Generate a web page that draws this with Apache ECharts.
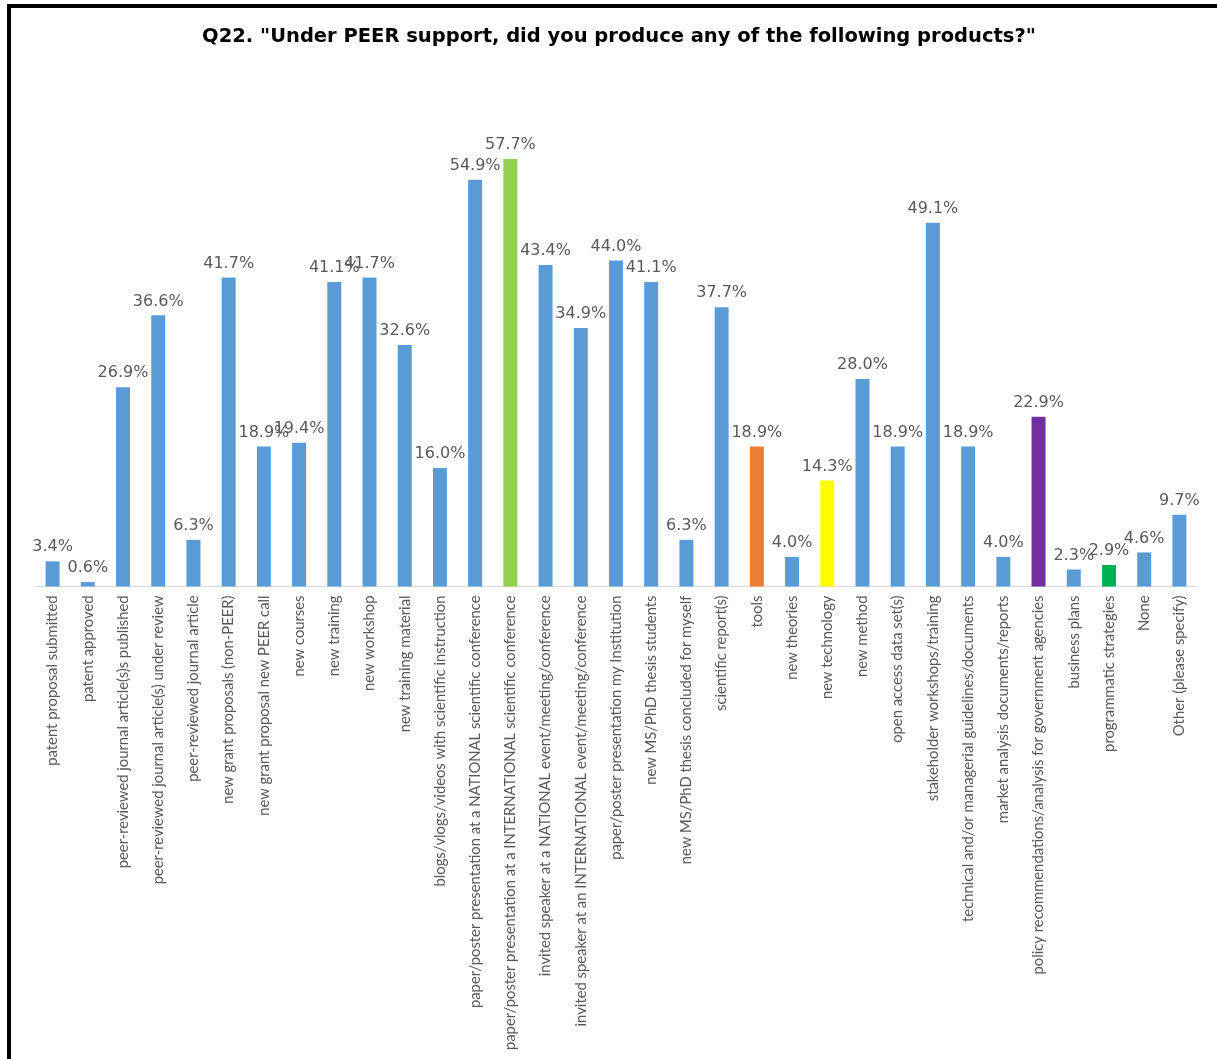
<!DOCTYPE html>
<html>
<head>
<meta charset="utf-8">
<script src="https://cdn.jsdelivr.net/npm/echarts@6/dist/echarts.min.js"></script>
<style>
html,body{margin:0;padding:0;background:#fff;}
#frame{position:absolute;left:0;top:0;width:1217px;height:1059px;}
#chart{position:absolute;left:0;top:0;width:1217px;height:1059px;}
#bt{position:absolute;left:7px;top:4px;width:1210px;height:4px;background:#000;}
#bl{position:absolute;left:7px;top:4px;width:4px;height:1055px;background:#000;}
</style>
</head>
<body>
<div id="frame"><div id="chart"></div><div id="bt"></div><div id="bl"></div></div>
<script>
const categories = [
  "patent proposal submitted",
  "patent approved",
  "peer-reviewed journal article(s)s published",
  "peer-reviewed journal article(s) under review",
  "peer-reviewed journal article",
  "new grant proposals (non-PEER)",
  "new grant proposal new PEER call",
  "new courses",
  "new training",
  "new workshop",
  "new training material",
  "blogs/vlogs/videos with scientific instruction",
  "paper/poster presentation at a NATIONAL scientific conference",
  "paper/poster presentation at a INTERNATIONAL scientific conference",
  "invited speaker at a NATIONAL event/meeting/conference",
  "invited speaker at an INTERNATIONAL event/meeting/conference",
  "paper/poster presentation my Institution",
  "new MS/PhD thesis students",
  "new MS/PhD thesis concluded for myself",
  "scientific report(s)",
  "tools",
  "new theories",
  "new technology",
  "new method",
  "open access data set(s)",
  "stakeholder workshops/training",
  "technical and/or managerial guidelines/documents",
  "market analysis documents/reports",
  "policy recommendations/analysis for government agencies",
  "business plans",
  "programmatic strategies",
  "None",
  "Other (please specify)"
];
const values = [3.4, 0.6, 26.9, 36.6, 6.3, 41.7, 18.9, 19.4, 41.1, 41.7, 32.6, 16.0, 54.9, 57.7, 43.4, 34.9, 44.0, 41.1, 6.3, 37.7, 18.9, 4.0, 14.3, 28.0, 18.9, 49.1, 18.9, 4.0, 22.9, 2.3, 2.9, 4.6, 9.7];
const highlightColors = {
  "paper/poster presentation at a INTERNATIONAL scientific conference": "#92D050",
  "tools": "#ED7D31",
  "new technology": "#FFFF00",
  "policy recommendations/analysis for government agencies": "#7030A0",
  "programmatic strategies": "#00B050"
};
const baseColor = "#5B9BD5";
const titleText = 'Q22. "Under PEER support, did you produce any of the following products?"';

const chart = echarts.init(document.getElementById('chart'));
chart.setOption({
  animation: false,
  backgroundColor: '#fff',
  title: {
    text: titleText,
    left: 614, textAlign: 'center', top: 22,
    textStyle: {fontFamily: 'DejaVu Sans', fontWeight: 'bold', fontSize: 19.5, color: '#000'}
  },
  grid: {left: 35, right: 20, top: 142, bottom: 472.5, containLabel: false},
  xAxis: {
    type: 'category',
    data: categories,
    axisLine: {lineStyle: {color: '#D9D9D9', width: 1}},
    axisTick: {show: false},
    axisLabel: {rotate: 90, interval: 0, margin: 9, color: '#595959', fontSize: 14.8, fontFamily: 'Lato'}
  },
  yAxis: {
    type: 'value', min: 0, max: 60, show: false
  },
  series: [{
    type: 'bar',
    barWidth: 14,
    data: values.map((v, i) => ({value: v, itemStyle: {color: highlightColors[categories[i]] || baseColor}})),
    label: {
      show: true, position: 'top', distance: 6,
      formatter: p => p.value.toFixed(1) + '%',
      color: '#595959', fontSize: 16, fontFamily: 'DejaVu Sans'
    }
  }]
});
</script>
</body>
</html>
